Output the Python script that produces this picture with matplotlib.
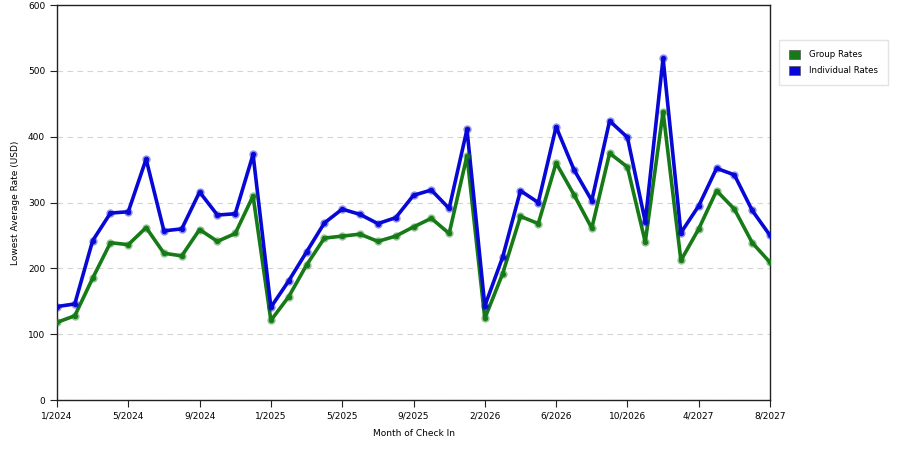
import matplotlib
matplotlib.use("Agg")
import matplotlib.pyplot as plt
from matplotlib.patches import Patch

# monthly categories (some months have no data)
months = (["%d/2024" % m for m in range(1, 13)]
          + ["%d/2025" % m for m in range(1, 13)]
          + ["%d/2026" % m for m in range(2, 13)]
          + ["1/2027"]
          + ["%d/2027" % m for m in range(4, 9)])

group_rates = [118, 128, 185, 239, 236, 262, 223, 219, 259, 241, 253, 310,
               121, 157, 205, 246, 249, 252, 241, 249, 263, 276, 253, 371,
               124, 192, 279, 268, 360, 312, 261, 375, 354, 240, 438, 212,
               260, 318, 290, 239, 209]
indiv_rates = [142, 146, 242, 284, 286, 366, 257, 260, 316, 281, 283, 373,
               141, 181, 225, 269, 290, 282, 268, 277, 311, 319, 291, 411,
               143, 217, 318, 300, 415, 350, 303, 424, 399, 271, 519, 254,
               295, 352, 342, 288, 250]

green = "#167a16"
blue = "#0808d6"

fig = plt.figure(figsize=(9, 4.5), dpi=100)
ax = fig.add_axes([0.0633, 0.111, 0.7923, 0.8778])

x = range(len(months))
for vals, col in [(group_rates, green), (indiv_rates, blue)]:
    ax.plot(x, vals, color=col, lw=2.6, zorder=3)
    ax.plot(x, vals, "o", ms=6, color=col, mec="none", alpha=0.45, zorder=4)
    ax.plot(x, vals, "o", ms=3.8, color=col, mec="none", zorder=5)

ax.set_xlim(0, len(months) - 1)
ax.set_ylim(0, 600)
ax.set_yticks(range(0, 601, 100))
ax.set_xticks(list(x)[::4])
ax.set_xticklabels(months[::4])
ax.grid(axis="y", color="#d4d4d4", ls=(0, (5, 4)), lw=0.8)
ax.set_axisbelow(True)
for s in ax.spines.values():
    s.set_color("#222222")
    s.set_linewidth(1)
ax.tick_params(labelsize=6.5, length=5, color="#222222", direction="out")

ax.set_xlabel("Month of Check In", fontsize=6.5, labelpad=6)
ax.set_ylabel("Lowest Average Rate (USD)", fontsize=6.5, labelpad=6)

handles = [Patch(facecolor=green, edgecolor="#555555", lw=0.5, label="Group Rates"),
           Patch(facecolor=blue, edgecolor="#555555", lw=0.5, label="Individual Rates")]
leg = fig.legend(handles=handles, loc="upper left", bbox_to_anchor=(0.866, 0.911),
                 borderaxespad=0, fontsize=6.2, frameon=True, fancybox=False,
                 handlelength=1.25, handleheight=1.25, handletextpad=1.0,
                 borderpad=1.15, labelspacing=0.75)
leg.get_frame().set_edgecolor("#dddddd")
leg.get_frame().set_linewidth(1)

fig.savefig("out.png", dpi=100)
